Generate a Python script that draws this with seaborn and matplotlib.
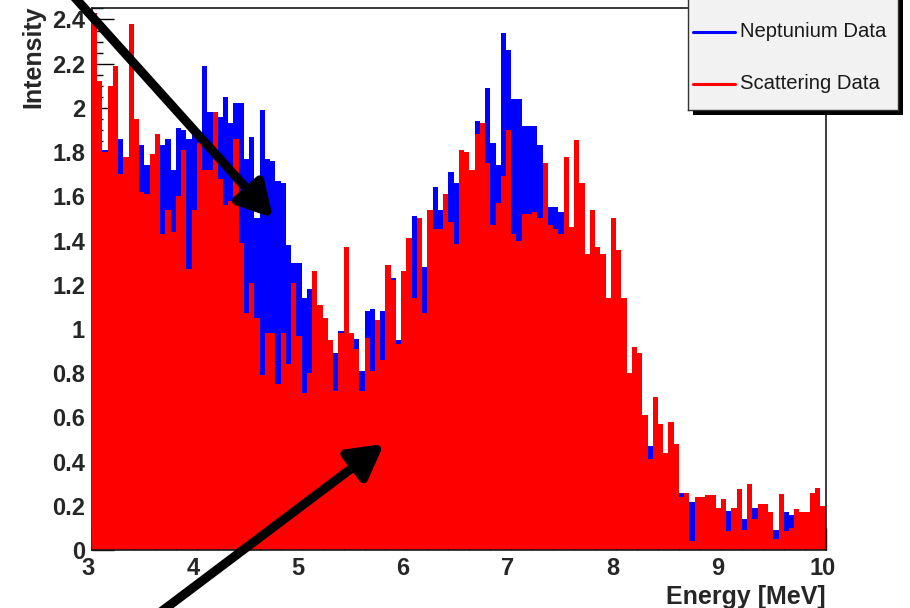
import numpy as np
import pandas as pd
import matplotlib
matplotlib.use("Agg")
import matplotlib.pyplot as plt
import matplotlib.transforms as mtransforms
from matplotlib.ticker import MultipleLocator
import seaborn as sns

# histogram binning in MeV (140 bins of 0.05 MeV)
energy_min = 3.0
energy_max = 10.0

# bin contents, 3.00 ... 9.95 MeV
neptunium = [
    2.00, 1.95, 1.81, 1.90, 1.85, 1.86, 1.72, 1.90, 1.80, 1.83,
    1.74, 1.70, 1.80, 1.83, 1.86, 1.72, 1.91, 1.90, 1.86, 1.89,
    1.88, 2.19, 1.98, 1.97, 1.96, 2.05, 1.93, 2.02, 2.02, 1.77,
    1.87, 1.50, 1.99, 1.77, 1.76, 1.67, 1.66, 1.38, 1.30, 1.30,
    1.14, 1.18, 1.10, 1.00, 0.95, 0.87, 0.89, 0.99, 1.00, 0.95,
    0.955, 0.81, 1.08, 1.09, 1.00, 1.08, 1.20, 1.23, 0.95, 1.20,
    1.35, 1.51, 1.45, 1.28, 1.50, 1.64, 1.54, 1.55, 1.71, 1.66,
    1.70, 1.75, 1.65, 1.94, 1.92, 2.09, 1.84, 1.74, 2.34, 2.26,
    2.04, 2.04, 1.92, 1.92, 1.92, 1.83, 1.68, 1.55, 1.55, 1.53,
    1.50, 1.40, 1.60, 1.50, 1.30, 1.40, 1.30, 1.25, 1.10, 1.40,
    1.30, 1.05, 0.75, 0.85, 0.85, 0.58, 0.47, 0.65, 0.52, 0.42,
    0.55, 0.45, 0.26, 0.24, 0.215, 0.23, 0.22, 0.23, 0.23, 0.17,
    0.21, 0.177, 0.18, 0.25, 0.14, 0.27, 0.19, 0.20, 0.19, 0.16,
    0.09, 0.23, 0.17, 0.16, 0.17, 0.13, 0.16, 0.24, 0.26, 0.19,
]
scattering = [
    2.43, 2.12, 1.80, 2.10, 2.19, 1.70, 1.78, 2.38, 1.95, 1.62,
    1.61, 1.79, 1.88, 1.43, 1.54, 1.44, 1.60, 1.81, 1.27, 1.54,
    1.84, 1.72, 1.72, 1.98, 1.68, 1.56, 1.58, 1.86, 1.39, 1.07,
    1.21, 1.05, 0.79, 0.98, 0.98, 0.75, 0.98, 0.84, 1.21, 0.97,
    0.71, 0.80, 1.26, 1.11, 1.05, 0.95, 0.72, 0.98, 1.37, 0.98,
    0.91, 0.72, 0.96, 0.81, 1.04, 0.86, 1.29, 1.22, 0.93, 1.26,
    1.41, 1.14, 1.50, 1.07, 1.54, 1.45, 1.45, 1.61, 1.485, 1.385,
    1.81, 1.80, 1.72, 1.88, 1.93, 1.75, 1.47, 1.57, 1.69, 1.90,
    1.43, 1.40, 1.52, 1.52, 1.53, 1.50, 1.75, 1.47, 1.45, 1.43,
    1.78, 1.46, 1.855, 1.66, 1.34, 1.54, 1.37, 1.34, 1.14, 1.50,
    1.355, 1.14, 0.80, 0.92, 0.89, 0.61, 0.41, 0.69, 0.57, 0.44,
    0.58, 0.48, 0.24, 0.256, 0.04, 0.24, 0.24, 0.25, 0.25, 0.19,
    0.23, 0.088, 0.19, 0.275, 0.09, 0.30, 0.14, 0.208, 0.208, 0.17,
    0.05, 0.252, 0.088, 0.10, 0.184, 0.17, 0.17, 0.256, 0.28, 0.20,
]

x_ticks = [3, 4, 5, 6, 7, 8, 9, 10]
y_ticks = [0, 0.2, 0.4, 0.6, 0.8, 1.0, 1.2, 1.4, 1.6, 1.8, 2.0, 2.2, 2.4]
y_max = 2.452

series_names = ["Neptunium Data", "Scattering Data"]
series_colors = ["#0000ff", "#ff0000"]

sns.set_style("white")
plt.rcParams["font.family"] = ["Liberation Sans", "DejaVu Sans"]

W, H = 910, 608
fig = plt.figure(figsize=(W / 100, H / 100), dpi=100)
ax = fig.add_axes([92 / W, 58 / H, 733.7 / W, 542 / H])

n_bins = len(scattering)
edges = np.linspace(energy_min, energy_max, n_bins + 1)
centers = (edges[:-1] + edges[1:]) / 2
df = pd.DataFrame({"energy": centers,
                   "Neptunium Data": neptunium,
                   "Scattering Data": scattering})

# blue first, red drawn over it
for name, color in zip(series_names, series_colors):
    sns.histplot(data=df, x="energy", weights=name, bins=n_bins,
                 binrange=(energy_min, energy_max),
                 element="step", fill=True, color=color, alpha=1,
                 linewidth=0, ax=ax)

ax.set_xlim(energy_min, energy_max)
ax.set_ylim(0, y_max)
ax.set_xticks(x_ticks)
ax.set_xticklabels([str(t) for t in x_ticks], fontsize=17, fontweight="bold")
ax.set_yticks(y_ticks)
ax.set_yticklabels([f"{t:g}" for t in y_ticks], fontsize=17, fontweight="bold")
ax.xaxis.set_minor_locator(MultipleLocator(0.2))
ax.yaxis.set_minor_locator(MultipleLocator(0.05))
ax.tick_params(which="both", direction="in", left=True, bottom=True,
               color="black", width=1)
ax.tick_params(which="major", length=16)
ax.tick_params(which="minor", length=8)
ax.tick_params(axis="y", pad=5)
ax.tick_params(axis="x", pad=5)
ax.set_axisbelow(True)

# ROOT puts x labels a bit left of the ticks
shift = mtransforms.ScaledTranslation(-3.5 / 100, 0, fig.dpi_scale_trans)
for lbl in ax.get_xticklabels():
    lbl.set_transform(lbl.get_transform() + shift)

for side in ["top", "right", "bottom", "left"]:
    ax.spines[side].set_visible(True)
    ax.spines[side].set_color("#1a1a1a")
    ax.spines[side].set_linewidth(1.2)
ax.spines["left"].set_zorder(0.5)

ax.set_ylabel("Intensity", fontsize=18, fontweight="bold", loc="top")
ax.yaxis.set_label_coords(-0.064, 1.005)
ax.set_xlabel("Energy [MeV]", fontsize=18, fontweight="bold", loc="right")
ax.xaxis.set_label_coords(1.0, -0.064)

# arrows
arrow_kw = dict(arrowstyle="-|>,head_length=0.72,head_width=0.4",
                color="black", lw=6.5, mutation_scale=28,
                shrinkA=0, shrinkB=0)
ax.annotate("", xy=(4.727, 1.502), xytext=(2.685, 2.579),
            arrowprops=arrow_kw, annotation_clip=False)
ax.annotate("", xy=(5.786, 0.48), xytext=(3.553, -0.317),
            arrowprops=arrow_kw, annotation_clip=False)

# legend box (top runs off the canvas like in the original)
shadow_ax = fig.add_axes([693 / W, (H - 115) / H, 210 / W, 170 / H])
shadow_ax.set_facecolor("black")
shadow_ax.set_xticks([])
shadow_ax.set_yticks([])
for s in shadow_ax.spines.values():
    s.set_visible(False)

leg_ax = fig.add_axes([688 / W, (H - 110) / H, 210 / W, 170 / H])
leg_ax.set_facecolor("#f2f2f2")
leg_ax.set_xlim(0, 1)
leg_ax.set_ylim(0, 1)
leg_ax.set_xticks([])
leg_ax.set_yticks([])
for s in leg_ax.spines.values():
    s.set_visible(True)
    s.set_color("#333333")
    s.set_linewidth(1)
for name, color, yy in zip(series_names, series_colors, [0.459, 0.153]):
    leg_ax.plot([5 / 210, 47 / 210], [yy, yy], color=color, lw=2.2)
    leg_ax.text(52 / 210, yy, name, fontsize=14.6, color="#1a1a1a",
                va="center", ha="left")

fig.savefig("out.png", dpi=100)
